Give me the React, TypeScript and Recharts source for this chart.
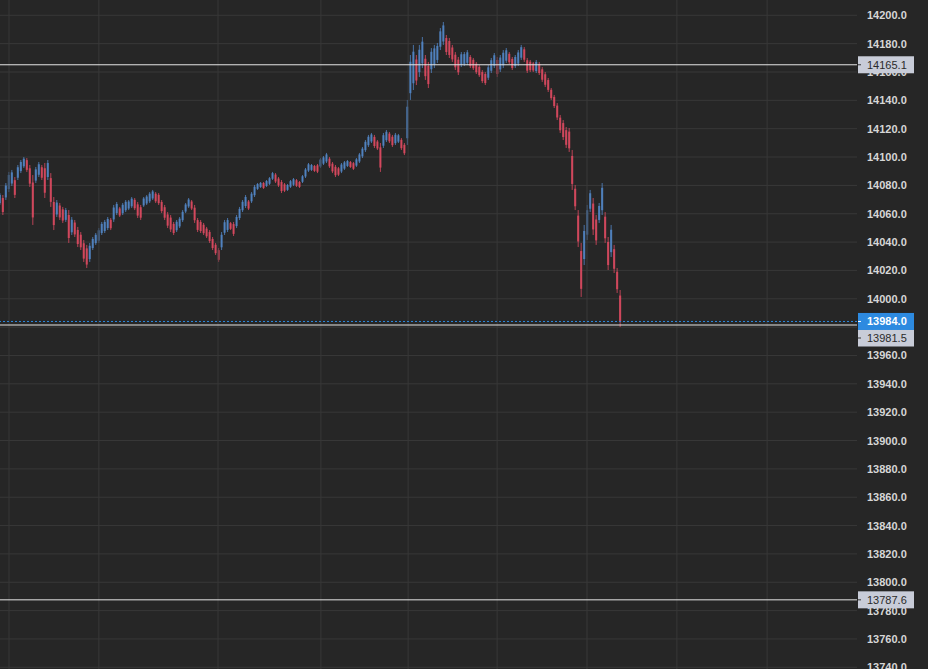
import React from 'react';
import { ComposedChart, Bar, XAxis, YAxis, CartesianGrid, ReferenceLine } from 'recharts';

// Bar highs / lows (price), one bar per time step
const highs = [
  14074.6, 14073.2, 14081.7, 14089.5, 14090.9, 14085.9, 14094.4, 14097.9, 14100.0, 14099.3,
  14094.4, 14087.3, 14093.0, 14096.5, 14094.4, 14095.8, 14097.9, 14088.7, 14071.8, 14069.7,
  14067.6, 14064.8, 14064.1, 14062.6, 14057.7, 14055.6, 14050.7, 14047.1, 14041.5, 14038.0,
  14039.4, 14043.6, 14046.4, 14049.9, 14054.2, 14055.6, 14057.7, 14057.0, 14066.2, 14068.3,
  14064.8, 14067.6, 14069.7, 14069.7, 14071.8, 14071.1, 14068.3, 14066.2, 14071.8, 14073.2,
  14075.3, 14076.8, 14075.3, 14074.6, 14069.7, 14066.2, 14061.2, 14059.1, 14054.2, 14055.6,
  14057.7, 14062.6, 14067.6, 14071.1, 14069.7, 14066.2, 14057.0, 14055.6, 14053.5, 14050.7,
  14048.5, 14043.6, 14039.4, 14035.8, 14047.1, 14055.6, 14057.0, 14054.2, 14054.2, 14059.1,
  14064.8, 14069.7, 14073.2, 14069.7, 14075.3, 14080.3, 14081.7, 14082.4, 14082.4, 14083.8,
  14085.9, 14089.5, 14088.7, 14085.9, 14083.8, 14081.7, 14081.0, 14083.8, 14085.2, 14084.5,
  14083.1, 14087.3, 14092.3, 14095.8, 14095.1, 14094.4, 14095.1, 14099.3, 14100.7, 14102.9,
  14100.0, 14096.5, 14094.4, 14093.0, 14095.8, 14097.2, 14097.9, 14097.2, 14096.5, 14099.3,
  14102.9, 14107.1, 14112.0, 14115.6, 14117.0, 14115.6, 14112.0, 14109.9, 14117.0, 14119.1,
  14117.7, 14115.6, 14117.0, 14116.3, 14113.4, 14109.9, 14140.3, 14172.0, 14179.1, 14172.0,
  14179.1, 14184.7, 14172.0, 14167.1, 14176.9, 14179.1, 14180.5, 14191.0, 14195.3, 14186.1,
  14184.0, 14179.1, 14174.1, 14170.6, 14174.1, 14174.1, 14175.5, 14172.0, 14169.9, 14167.1,
  14164.9, 14161.4, 14160.0, 14164.9, 14169.9, 14173.4, 14170.6, 14172.0, 14175.5, 14176.9,
  14174.1, 14170.6, 14172.0, 14175.5, 14179.1, 14177.6, 14169.9, 14168.5, 14167.1, 14168.5,
  14167.1, 14163.5, 14160.0, 14155.8, 14148.7, 14143.8, 14138.1, 14129.7, 14126.1, 14121.2,
  14120.5, 14105.0, 14080.3, 14062.6, 14039.4, 14052.1, 14066.2, 14076.8, 14071.1, 14059.1,
  14067.6, 14081.7, 14061.2, 14043.6, 14052.1, 14038.0, 14021.7, 14006.2,
];

const lows = [
  14066.2, 14059.1, 14069.7, 14075.3, 14079.6, 14071.1, 14083.8, 14088.7, 14092.3, 14089.5,
  14078.9, 14052.1, 14081.7, 14085.9, 14083.8, 14071.1, 14083.8, 14064.8, 14048.5, 14057.7,
  14055.6, 14053.5, 14054.2, 14039.4, 14045.0, 14043.6, 14036.5, 14034.4, 14026.0, 14021.7,
  14026.0, 14034.4, 14038.0, 14039.4, 14045.0, 14046.4, 14048.5, 14048.5, 14054.2, 14059.1,
  14057.7, 14059.1, 14061.2, 14062.6, 14064.1, 14062.6, 14057.0, 14055.6, 14064.8, 14066.2,
  14067.6, 14069.7, 14067.6, 14066.2, 14060.5, 14055.6, 14049.9, 14047.1, 14045.0, 14047.1,
  14049.9, 14054.2, 14060.5, 14064.1, 14062.6, 14053.5, 14047.1, 14046.4, 14045.0, 14042.9,
  14039.4, 14034.4, 14030.9, 14026.0, 14034.4, 14045.0, 14047.1, 14048.5, 14044.3, 14049.9,
  14055.6, 14061.2, 14064.1, 14062.6, 14067.6, 14071.8, 14076.8, 14078.2, 14077.5, 14078.9,
  14080.3, 14083.8, 14081.7, 14078.9, 14074.6, 14075.3, 14076.1, 14078.2, 14079.6, 14078.9,
  14078.2, 14081.7, 14085.2, 14089.5, 14090.2, 14089.5, 14088.7, 14092.3, 14094.4, 14095.8,
  14092.3, 14088.7, 14085.9, 14086.6, 14088.7, 14090.9, 14093.0, 14092.3, 14090.9, 14093.0,
  14095.8, 14099.3, 14103.6, 14107.1, 14109.9, 14106.4, 14105.0, 14089.5, 14106.4, 14110.6,
  14109.9, 14107.1, 14108.5, 14109.9, 14105.0, 14101.4, 14108.5, 14140.3, 14147.3, 14150.8,
  14156.5, 14162.8, 14154.4, 14148.7, 14159.3, 14162.8, 14166.4, 14175.5, 14179.1, 14172.0,
  14169.9, 14167.1, 14161.4, 14157.9, 14163.5, 14164.2, 14164.9, 14162.8, 14161.4, 14158.6,
  14156.5, 14152.2, 14150.8, 14154.4, 14159.3, 14162.8, 14156.5, 14160.0, 14162.8, 14166.4,
  14165.6, 14161.4, 14162.8, 14164.2, 14168.5, 14167.1, 14159.3, 14160.0, 14160.0, 14159.3,
  14157.9, 14153.0, 14149.4, 14145.9, 14140.3, 14134.6, 14126.1, 14117.0, 14112.0, 14106.4,
  14103.6, 14076.8, 14062.6, 14036.5, 14001.3, 14023.8, 14041.5, 14061.2, 14045.0, 14038.0,
  14053.5, 14059.1, 14039.4, 14020.3, 14029.5, 14018.2, 14004.1, 13980.1,
];

const yTicks = [
  13740, 13760, 13780, 13800, 13820, 13840, 13860, 13880, 13900, 13920, 13940, 13960,
  13980, 14000, 14020, 14040, 14060, 14080, 14100, 14120, 14140, 14160, 14180, 14200,
];

// session boundaries, in bar steps
const sessionBreaks = [3, 33, 72.75, 107.1, 136.2, 165.9, 195.9, 225.9, 256];

const levelLines = [14165.1, 13787.6];
const lastClose = 13981.5;
const lastPrice = 13984.0;

const Y_DOMAIN = [13738.8, 14210.8];
const X_DOMAIN = [0, 286];

const BG = '#262626';
const GRID = '#383838';
const TICK_TEXT = '#d6d6d6';
const UP = '#5286c6';
const DOWN = '#dc4a60';
const TAG_GRAY = '#c8ccd8';
const TAG_BLUE = '#2d8ae0';
const FONT = '"Liberation Sans", Arial, sans-serif';

// tags drawn on the price axis (drawn last so they sit on top of tick labels)
const tags = [
  { value: levelLines[0], fill: TAG_GRAY, color: '#2b2b2b', bold: false, shift: 0 },
  { value: levelLines[1], fill: TAG_GRAY, color: '#2b2b2b', bold: false, shift: 0 },
  { value: lastClose, fill: TAG_GRAY, color: '#2b2b2b', bold: false, shift: 13 },
  { value: lastPrice, fill: TAG_BLUE, color: '#ffffff', bold: true, shift: 0 },
];
const axisTicks = [...yTicks, ...tags.map((t) => t.value)];

const data = highs.map((h, i) => {
  const mid = (h + lows[i]) / 2;
  const prevMid = i > 0 ? (highs[i - 1] + lows[i - 1]) / 2 : mid - 1;
  return { t: i, range: [lows[i], h], up: mid >= prevMid };
});

const CandleShape = (props: any) => {
  const { x, y, width, height, payload } = props;
  if (x == null || y == null) return null;
  const top = height < 0 ? y + height : y;
  const h = Math.max(1, Math.abs(height));
  const c = payload.up ? UP : DOWN;
  const cx = x + width / 2;
  const bw = width - 0.6;
  const bodyTop = top + h * 0.15;
  const bodyH = Math.max(1, h * 0.7);
  return (
    <g>
      <rect x={cx - 0.5} y={top} width={1} height={h} fill={c} fillOpacity={0.8} />
      <rect x={cx - bw / 2} y={bodyTop} width={bw} height={bodyH} fill={c} fillOpacity={0.85} />
    </g>
  );
};

const PriceTick = (props: any) => {
  const { x, y, payload } = props;
  const tag = tags.find((t) => t.value === payload.value);
  if (tag) {
    const bx = x - 9;
    const cy = y + tag.shift;
    return (
      <g>
        <rect x={bx} y={cy - 8.5} width={56} height={17} fill={tag.fill} />
        <line x1={bx} x2={bx + 3} y1={cy} y2={cy} stroke={tag.bold ? '#ffffff' : '#333333'} strokeWidth={1} />
        <text x={x} y={cy + 4} fill={tag.color} fontSize={11} fontWeight={tag.bold ? 'bold' : 'normal'} fontFamily={FONT} textAnchor="start">
          {tag.value.toFixed(1)}
        </text>
      </g>
    );
  }
  return (
    <text x={x} y={y} dy={4} fill={TICK_TEXT} fontSize={11} fontWeight="bold" fontFamily={FONT} textAnchor="start">
      {Number(payload.value).toFixed(1)}
    </text>
  );
};

export default function App() {
  return (
    <div style={{ position: 'absolute', left: 0, top: 0, width: 928, height: 669, background: BG, overflow: 'hidden' }}>
      <ComposedChart width={928} height={669} data={data} margin={{ top: 0, right: 0, bottom: 0, left: 0 }}>
        <CartesianGrid stroke={GRID} vertical={false} horizontalValues={yTicks} />
        <XAxis dataKey="t" type="number" domain={X_DOMAIN} allowDataOverflow hide />
        <YAxis
          orientation="right"
          width={71}
          type="number"
          domain={Y_DOMAIN}
          allowDataOverflow
          ticks={axisTicks}
          interval={0}
          tickLine={false}
          axisLine={false}
          tickSize={0}
          tickMargin={10}
          tick={<PriceTick />}
        />
        {sessionBreaks.map((b) => (
          <ReferenceLine key={'s' + b} x={b} stroke={GRID} strokeWidth={1} />
        ))}
        <Bar dataKey="range" barSize={3} isAnimationActive={false} shape={<CandleShape />} />
        {levelLines.map((v) => (
          <ReferenceLine key={'l' + v} y={v} stroke="#e6e6e6" strokeWidth={1} />
        ))}
        <ReferenceLine y={lastClose} stroke="#e6e6e6" strokeWidth={1} />
        <ReferenceLine y={lastPrice} stroke={TAG_BLUE} strokeWidth={1} strokeDasharray="2 2" />
      </ComposedChart>
    </div>
  );
}
